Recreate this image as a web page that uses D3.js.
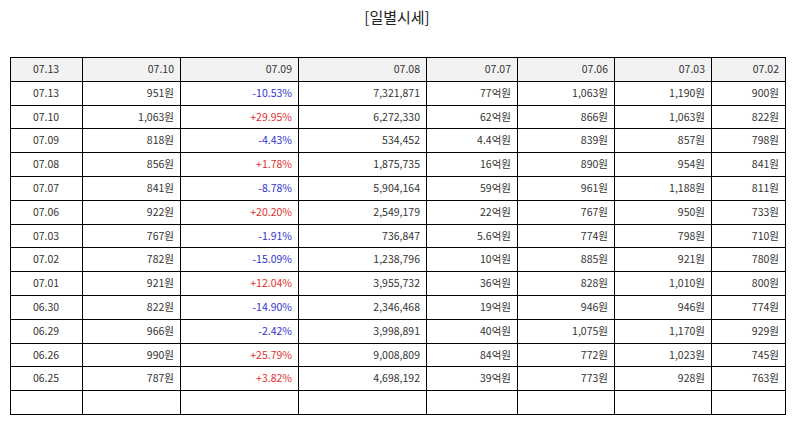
<!DOCTYPE html><html><head><meta charset="utf-8"><script src="https://cdn.jsdelivr.net/npm/d3@7"></script>
<style>body{margin:0;background:#fff}</style></head><body><svg id="c" width="794" height="425"></svg>
<script>
const headers=["07.13","07.10","07.09","07.08","07.07","07.06","07.03","07.02"];
const dates=["07.13","07.10","07.09","07.08","07.07","07.06","07.03","07.02","07.01","06.30","06.29","06.26","06.25"];
const close=["951원","1,063원","818원","856원","841원","922원","767원","782원","921원","822원","966원","990원","787원"];
const change=["-10.53%","+29.95%","-4.43%","+1.78%","-8.78%","+20.20%","-1.91%","-15.09%","+12.04%","-14.90%","-2.42%","+25.79%","+3.82%"];
const volume=["7,321,871","6,272,330","534,452","1,875,735","5,904,164","2,549,179","736,847","1,238,796","3,955,732","2,346,468","3,998,891","9,008,809","4,698,192"];
const amount=["77억원","62억원","4.4억원","16억원","59억원","22억원","5.6억원","10억원","36억원","19억원","40억원","84억원","39억원"];
const openP=["1,063원","866원","839원","890원","961원","767원","774원","885원","828원","946원","1,075원","772원","773원"];
const high=["1,190원","1,063원","857원","954원","1,188원","950원","798원","921원","1,010원","946원","1,170원","1,023원","928원"];
const low=["900원","822원","798원","841원","811원","733원","710원","780원","800원","774원","929원","745원","763원"];
const colEdges=[10,82,180,298,426,517,614,711,785];
const rows=[headers,...dates.map((d,i)=>[d,close[i],change[i],volume[i],amount[i],openP[i],high[i],low[i]]),["","","","","","","",""]];
const svg=d3.select("#c");
svg.append("text").attr("x",397).attr("y",23).attr("text-anchor","middle").attr("font-family","Noto Sans CJK KR").attr("font-size",15).attr("fill","#222").text("[일별시세]");
const y=d3.scaleBand().domain(d3.range(rows.length)).range([57,414]);
const r5=v=>Math.round(v)+0.5;
rows.forEach((r,ri)=>{
  r.forEach((v,ci)=>{
    const x0=colEdges[ci],x1=colEdges[ci+1];
    const yy=r5(y(ri)), yb=r5(y(ri)+y.bandwidth());
    svg.append("rect").attr("x",x0+0.5).attr("y",yy).attr("width",x1-x0).attr("height",yb-yy).attr("fill",ri==0?"#f2f2f2":"#fff").attr("stroke","#000").attr("stroke-width",1).attr("shape-rendering","crispEdges");
    const center=ci==0;
    let fill="#333";
    if(ci==2&&ri>0&&v){fill=v[0]=="-"?"#3333cc":"#e03030";}
    svg.append("text").attr("x",center?(x0+x1)/2:x1-6).attr("y",y(ri)+y.bandwidth()/2+4)
      .attr("text-anchor",center?"middle":"end").attr("font-family","Noto Sans CJK KR").attr("font-size",10.5).attr("fill",fill).text(v);
  });
});
</script></body></html>
